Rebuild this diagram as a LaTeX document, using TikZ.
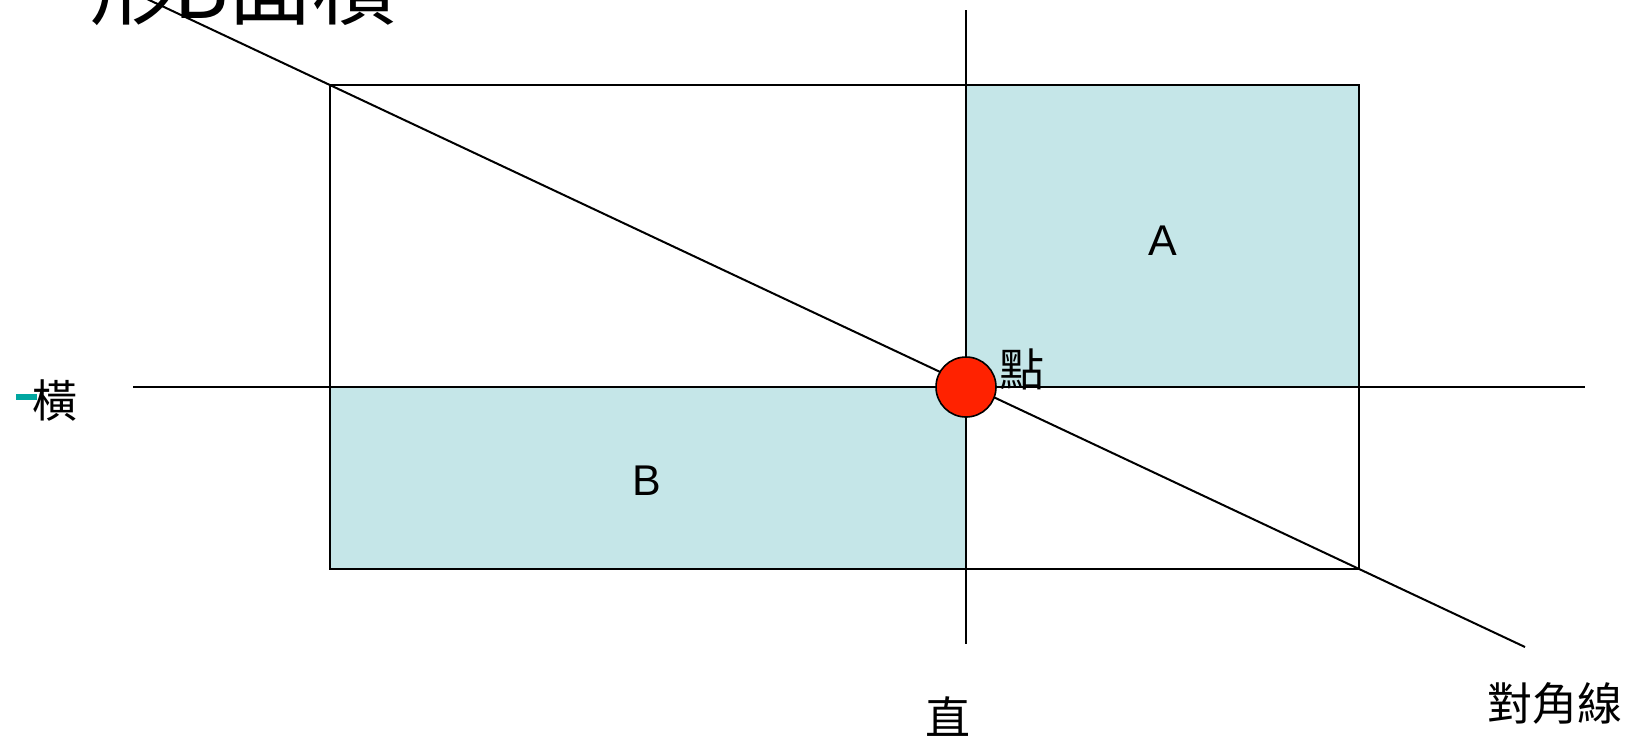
\documentclass[tikz,border=0pt]{standalone}
\usepackage{fontspec}
\setmainfont{Liberation Sans}
\newfontfamily\cjk{Noto Sans CJK TC}
\definecolor{fillblue}{RGB}{197,230,232}
\definecolor{dotred}{RGB}{255,34,0}
\definecolor{bulletteal}{RGB}{0,166,160}
\tikzset{
  thinline/.style={line width=1pt, black},
  region/.style={fill=fillblue},
  cjklabel/.style={font=\cjk\fontsize{22.5}{26}\selectfont, inner sep=0pt},
  letterlabel/.style={font=\fontsize{21.5}{25}\selectfont, inner sep=0pt},
  dot/.style={circle, draw=black, line width=0.8pt, fill=dotred, minimum size=30pt, inner sep=0pt},
}
\begin{document}
\begin{tikzpicture}[x=0.5pt,y=-0.5pt]
\useasboundingbox (0,0) rectangle (1632,741);
% key points
\coordinate (TL) at (330,85);
\coordinate (TR) at (1359,85);
\coordinate (BR) at (1359,569);
\coordinate (BL) at (330,569);
\coordinate (Vtop) at (966,10);
\coordinate (Vbot) at (966,644);
\coordinate (Hl) at (133,387);
\coordinate (Hr) at (1585,387);
\coordinate (Dtop) at (130,-9);
\coordinate (Dend) at (1525,647);
% shaded regions
\fill[region] (966,85) rectangle (1359,387);
\fill[region] (330,387) rectangle (966,569);
% outer rectangle
\draw[thinline] (TL) rectangle (BR);
% lines
\draw[thinline] (Vtop) -- (Vbot);
\draw[thinline] (Hl) -- (Hr);
\draw[thinline] (Dtop) -- (Dend);
% point
\node[dot] (P) at (966,387) {};
% labels
\node[letterlabel] (A) at (1163,241) {A};
\node[letterlabel] (B) at (647,481) {B};
\node[cjklabel] (dian) at (1022,369) {點};
\fill[bulletteal] (16,394) rectangle (37,400);
\node[cjklabel] (heng) at (55,400) {橫};
\node[cjklabel] (zhi) at (948,717) {直};
\node[cjklabel] (diag) at (1555,703) {對角線};
\node[font=\cjk\fontsize{42}{46}\selectfont, inner sep=0pt] (title) at (243,-13) {形B面積};
\end{tikzpicture}
\end{document}
